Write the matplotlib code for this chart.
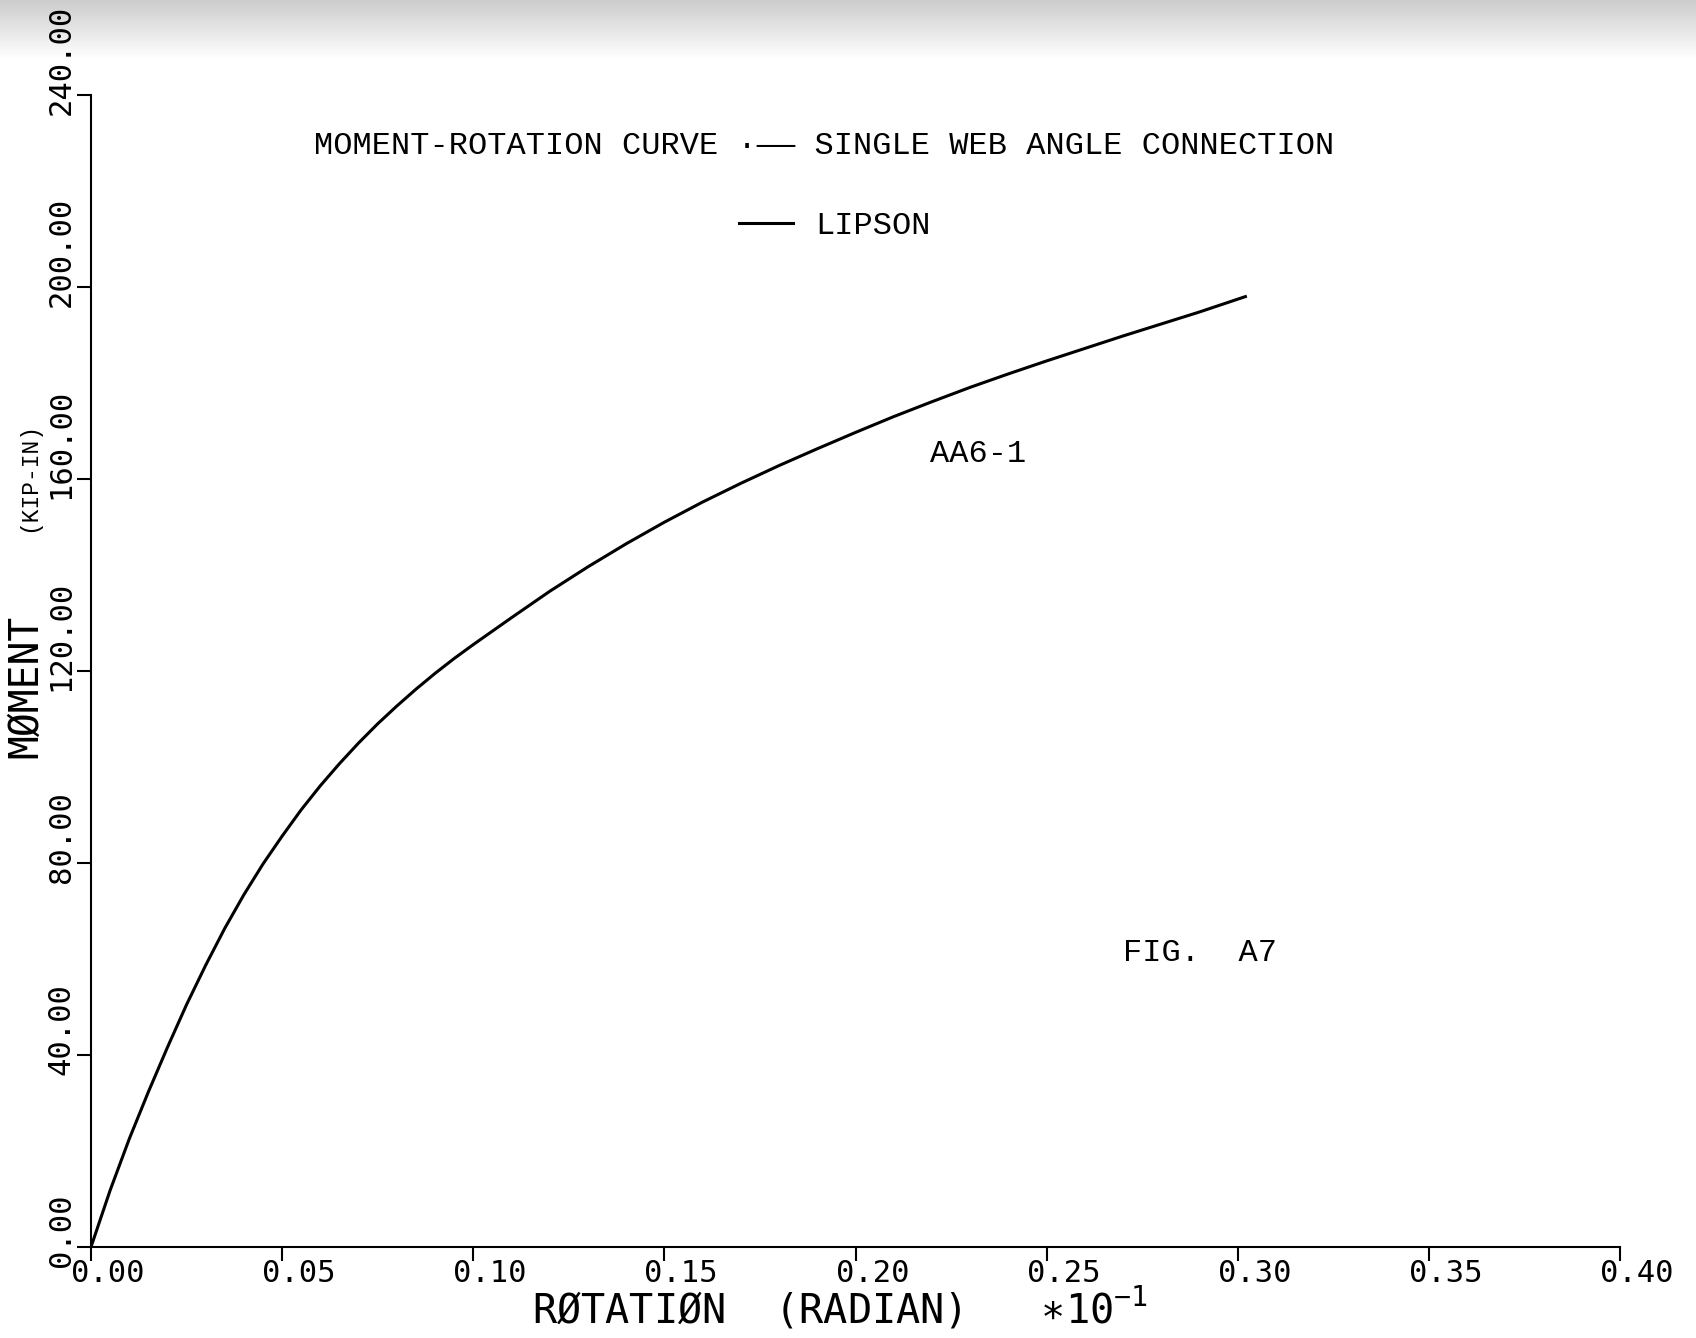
import numpy as np
import matplotlib
matplotlib.use('Agg')
import matplotlib.pyplot as plt
import matplotlib.transforms as mtransforms

# Rotacion (x10^-1 rad) y momento (kip-in)
rotacion = [0.0, 0.005, 0.010, 0.015, 0.020, 0.025, 0.030, 0.035, 0.040, 0.045,
            0.050, 0.055, 0.060, 0.065, 0.070, 0.075, 0.080, 0.085, 0.090, 0.095,
            0.100, 0.110, 0.120, 0.130, 0.140, 0.150, 0.160, 0.170, 0.180, 0.190,
            0.200, 0.210, 0.220, 0.230, 0.240, 0.250, 0.260, 0.270, 0.280, 0.290,
            0.302]
momento = [0.0, 11.8, 22.5, 32.3, 41.6, 50.5, 58.7, 66.4, 73.4, 79.8,
           85.6, 91.1, 96.1, 100.7, 105.0, 109.0, 112.7, 116.2, 119.5, 122.6,
           125.5, 131.1, 136.6, 141.7, 146.5, 151.0, 155.2, 159.1, 162.8, 166.3,
           169.7, 173.0, 176.1, 179.1, 181.9, 184.6, 187.2, 189.8, 192.3, 194.8,
           198.0]

xticks = [0.00, 0.05, 0.10, 0.15, 0.20, 0.25, 0.30, 0.35, 0.40]
yticks = [0, 40, 80, 120, 160, 200, 240]

plotter = ['DejaVu Sans Mono', 'DejaVu Sans']
typewriter = 'Liberation Mono'

plt.rcParams['mathtext.fontset'] = 'custom'
plt.rcParams['mathtext.rm'] = 'DejaVu Sans Mono'
plt.rcParams['mathtext.it'] = 'DejaVu Sans Mono'
plt.rcParams['mathtext.bf'] = 'DejaVu Sans Mono'

W, H = 1696, 1338
fig = plt.figure(figsize=(W / 100, H / 100), dpi=100)
ax = fig.add_axes([91 / W, 1 - 1247 / H, 1529 / W, 1152 / H])

# banda gris del escaneo arriba
band = fig.add_axes([0, 1 - 60 / H, 1, 60 / H], zorder=-1)
grad = np.linspace(0.80, 1.0, 60).reshape(-1, 1)
band.imshow(grad, cmap='gray', vmin=0, vmax=1, aspect='auto')
band.axis('off')

ax.plot(rotacion, momento, color='black', lw=2.2, label='LIPSON')

ax.set_xlim(0, 0.4)
ax.set_ylim(0, 240)
ax.spines['top'].set_visible(False)
ax.spines['right'].set_visible(False)
ax.spines['left'].set_linewidth(1.5)
ax.spines['bottom'].set_linewidth(1.5)

ax.set_xticks(xticks)
ax.set_xticklabels(['%.2f' % v for v in xticks])
ax.set_yticks(yticks)
ax.set_yticklabels(['%.2f' % v for v in yticks])
ax.tick_params(direction='out', length=10, width=1.5, labelsize=22, colors='black')
ax.tick_params(axis='x', pad=0)
ax.tick_params(axis='y', pad=1, labelrotation=90)

# desplazamientos de las etiquetas de los ticks
dx = mtransforms.ScaledTranslation(-0.20, 0.02, fig.dpi_scale_trans)
dy = mtransforms.ScaledTranslation(0, -0.20, fig.dpi_scale_trans)
for lbl in ax.get_xticklabels():
    lbl.set_family(plotter)
    lbl.set_ha('left')
    lbl.set_transform(lbl.get_transform() + dx)
for lbl in ax.get_yticklabels():
    lbl.set_family(plotter)
    lbl.set_va('bottom')
    lbl.set_transform(lbl.get_transform() + dy)

# etiquetas de ejes
ax.set_xlabel('RØTATIØN  (RADIAN)   ∗10$^{-1}$', family=plotter, fontsize=29)
ax.xaxis.set_label_coords(0.490, -0.0668)
ax.xaxis.label.set_va('baseline')

ax.text(-0.0425, 0.4245, 'MØMENT', rotation=90, ha='center', va='bottom',
        family=plotter, fontsize=28.5, transform=ax.transAxes)
ax.text(-0.0405, 0.6207, '(KIP-IN)', rotation=90, ha='center', va='bottom',
        family=typewriter, fontsize=16.5, transform=ax.transAxes)

# textos del grafico
ax.text(0.1457, 0.9557, 'MOMENT-ROTATION CURVE ·—— SINGLE WEB ANGLE CONNECTION',
        family=typewriter, fontsize=23, ha='left', va='center', transform=ax.transAxes)
ax.legend(loc='center left', bbox_to_anchor=(0.4236, 0.8863), frameon=False,
          prop={'family': typewriter, 'size': 23}, handlelength=1.69,
          handletextpad=0.71, borderpad=0, borderaxespad=0)

ax.text(0.2195, 165.2, 'AA6-1', family=typewriter, fontsize=23, ha='left', va='center')
ax.text(0.2699, 61.25, 'FIG.  A7', family=typewriter, fontsize=23, ha='left', va='center')

fig.savefig('out.png', dpi=100)
